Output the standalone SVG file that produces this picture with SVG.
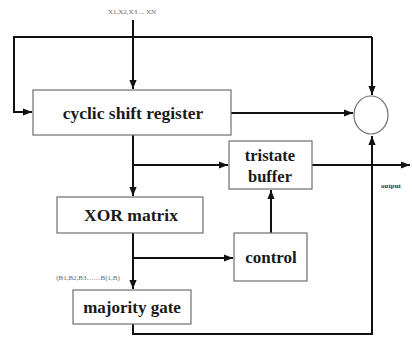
<svg xmlns="http://www.w3.org/2000/svg" width="412" height="337" viewBox="0 0 412 337">
<defs>
<marker id="ah" viewBox="0 0 10 10" refX="10" refY="5" markerWidth="4.5" markerHeight="4.5" orient="auto" markerUnits="strokeWidth"><path d="M0,1 L10,5 L0,9 z" fill="#111"/></marker>
<style>
.box{fill:#fff;stroke:#6e6e6e;stroke-width:1.2}
.lbl{font-family:"Liberation Serif",serif;font-weight:bold;fill:#1a1a1a;text-anchor:middle}
.sm{font-family:"Liberation Serif",serif;font-size:7px;fill:#666;text-anchor:middle}
.out{font-family:"Liberation Serif",serif;font-size:7px;font-weight:bold;fill:#333;text-anchor:middle}
.ln{fill:none;stroke:#111;stroke-width:2}
.ar{fill:none;stroke:#111;stroke-width:2;marker-end:url(#ah)}
</style>
</defs>
<rect width="412" height="337" fill="#fff"/>
<g id="connectors">
<path class="ar" d="M133,20 V89"/>
<path class="ar" d="M372,37 H14 V112 H32"/>
<path class="ar" d="M372,37 V95"/>
<path class="ar" d="M231,113 H353"/>
<path class="ar" d="M133,135 V196"/>
<path class="ar" d="M133,165 H228"/>
<path class="ar" d="M312,165 H410"/>
<path class="ar" d="M133,233 V289"/>
<path class="ar" d="M133,258 H233"/>
<path class="ar" d="M271,233 V190"/>
<path class="ar" d="M133,324 V334 H372 V136"/>
</g>
<g id="input-label"><text class="sm" x="132" y="14">X1,X2,X3 ... XN</text></g>
<g id="cyclic-shift-register">
<rect class="box" x="33" y="90" width="198" height="45"/>
<text class="lbl" x="133" y="119" font-size="17.5">cyclic shift register</text>
</g>
<g id="sum-circle"><ellipse cx="371" cy="115" rx="17" ry="19" fill="#fff" stroke="#6e6e6e" stroke-width="1.2"/></g>
<g id="tristate-buffer">
<rect class="box" x="229" y="141" width="83" height="48"/>
<text class="lbl" x="270" y="161" font-size="16.5">tristate</text>
<text class="lbl" x="270" y="182" font-size="16.5">buffer</text>
</g>
<g id="output-label"><text class="out" x="391" y="188">output</text></g>
<g id="xor-matrix">
<rect class="box" x="57" y="197" width="146" height="36"/>
<text class="lbl" x="131" y="221" font-size="17.5">XOR matrix</text>
</g>
<g id="control">
<rect class="box" x="234" y="233" width="73" height="48"/>
<text class="lbl" x="271" y="263" font-size="17">control</text>
</g>
<g id="b-label"><text class="sm" x="88" y="280">(B1,B2,B3……B(1,B)</text></g>
<g id="majority-gate">
<rect class="box" x="73" y="290" width="118" height="34"/>
<text class="lbl" x="132" y="313" font-size="17">majority gate</text>
</g>
</svg>
